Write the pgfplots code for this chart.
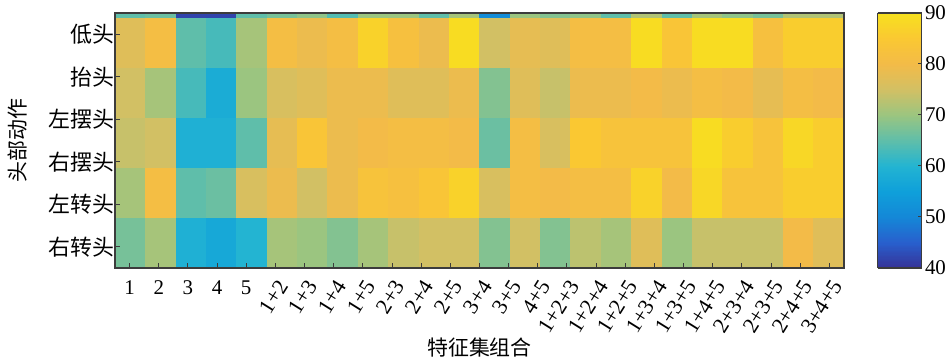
\documentclass[border=0pt]{standalone}
\usepackage{pgfplots}
\pgfplotsset{compat=1.18}
\usepackage{fontspec}
\setmainfont{Liberation Serif}
\newfontfamily\cjk{Noto Sans CJK SC}

% parula-like colour scale, 40 ... 90 in steps of 5
\pgfplotsset{
  colormap={parulaprint}{
    rgb255=(55,50,150)
    rgb255=(40,95,205)
    rgb255=(20,135,215)
    rgb255=(15,160,218)
    rgb255=(35,180,210)
    rgb255=(95,190,170)
    rgb255=(155,197,128)
    rgb255=(210,192,100)
    rgb255=(243,187,72)
    rgb255=(250,200,50)
    rgb255=(247,225,30)
  },
  /pgf/number format/assume math mode=true,
}
\definecolor{frame}{RGB}{60,60,60}

\begin{document}
\begin{tikzpicture}
\begin{axis}[
  scale only axis,
  width=729bp, height=255bp,
  xmin=-0.5, xmax=23.5,
  ymin=0.4, ymax=5.5,
  y dir=reverse,
  enlargelimits=false,
  axis on top,
  colormap name=parulaprint,
  point meta min=40, point meta max=90,
  axis line style={frame, line width=1.1bp},
  tick style={frame, line width=1bp},
  major tick length=5bp,
  tick align=inside,
  tick pos=left,
  xtick={-0.02,0.94,1.90,2.86,3.82},
  xticklabels={1,2,3,4,5},
  extra x ticks={4.78,5.74,6.70,7.66,8.62,9.58,10.54,11.50,12.46,13.42,14.38,15.34,16.30,17.26,18.22,19.18,20.14,21.10,22.06,23.02},
  extra x tick labels={1+2,1+3,1+4,1+5,2+3,2+4,2+5,3+4,3+5,4+5,1+2+3,1+2+4,1+2+5,1+3+4,1+3+5,1+4+5,2+3+4,2+3+5,2+4+5,3+4+5},
  extra x tick style={grid=none, tick pos=left,
    xticklabel style={rotate=58, anchor=east, xshift=3bp, yshift=-9bp,
      font=\fontsize{22}{26}\selectfont}},
  xticklabel style={font=\fontsize{21}{24}\selectfont, yshift=-9bp},
  ytick={0.825,1.675,2.525,3.375,4.225,5.075},
  yticklabels={低头,抬头,左摆头,右摆头,左转头,右转头},
  yticklabel style={font=\cjk\fontsize{22}{26}\selectfont, xshift=3bp},
  xlabel={特征集组合},
  xlabel style={font=\cjk\fontsize{21}{24}\selectfont, at={(axis description cs:0.5,-0.31)}, anchor=center},
  ylabel={头部动作},
  ylabel style={font=\cjk\fontsize{21}{24}\selectfont, at={(axis description cs:-0.1344,0.5)}, anchor=center},
  colorbar sampled,
  colorbar style={
    at={(parent axis.north east)}, anchor=north west, xshift=25bp,
    width=44bp,
    samples=201,
    xmin=0, xmax=1,
    ytick={40,50,...,90},
    ytick pos=right,
    yticklabel pos=right,
    tick align=inside,
    major tick length=4bp,
    axis line style={frame, line width=1.1bp},
    tick style={frame, line width=1bp},
    yticklabel style={font=\fontsize{21}{24}\selectfont},
  },
]
% recognition rate per cell: column index, row index (0 = top strip), value
\addplot[matrix plot*, mesh/cols=24, point meta=explicit]
  table[row sep=\\, meta=c]{
  x y c\\
  0 0 65\\ 1 0 66\\ 2 0 42\\ 3 0 42\\ 4 0 65\\ 5 0 67\\ 6 0 69\\ 7 0 64\\ 8 0 70\\ 9 0 70\\ 10 0 65\\ 11 0 71\\ 12 0 51\\ 13 0 70\\ 14 0 68\\ 15 0 69\\ 16 0 65\\ 17 0 72\\ 18 0 65\\ 19 0 71\\ 20 0 69\\ 21 0 67\\ 22 0 72\\ 23 0 72\\
  0 1 77\\ 1 1 81\\ 2 1 65\\ 3 1 63\\ 4 1 71\\ 5 1 81\\ 6 1 79\\ 7 1 81\\ 8 1 87\\ 9 1 82\\ 10 1 79\\ 11 1 89\\ 12 1 75\\ 13 1 78\\ 14 1 77\\ 15 1 81\\ 16 1 81\\ 17 1 89\\ 18 1 84\\ 19 1 89\\ 20 1 89\\ 21 1 82\\ 22 1 86\\ 23 1 86\\
  0 2 75\\ 1 2 71\\ 2 2 63\\ 3 2 58\\ 4 2 70\\ 5 2 76\\ 6 2 77\\ 7 2 79\\ 8 2 79\\ 9 2 77\\ 10 2 77\\ 11 2 79\\ 12 2 68\\ 13 2 77\\ 14 2 74\\ 15 2 79\\ 16 2 79\\ 17 2 80\\ 18 2 79\\ 19 2 81\\ 20 2 80\\ 21 2 78\\ 22 2 81\\ 23 2 80\\
  0 3 74\\ 1 3 75\\ 2 3 59\\ 3 3 59\\ 4 3 65\\ 5 3 78\\ 6 3 84\\ 7 3 79\\ 8 3 80\\ 9 3 81\\ 10 3 81\\ 11 3 80\\ 12 3 66\\ 13 3 81\\ 14 3 76\\ 15 3 85\\ 16 3 83\\ 17 3 83\\ 18 3 83\\ 19 3 89\\ 20 3 86\\ 21 3 83\\ 22 3 88\\ 23 3 86\\
  0 4 71\\ 1 4 81\\ 2 4 65\\ 3 4 66\\ 4 4 76\\ 5 4 79\\ 6 4 75\\ 7 4 79\\ 8 4 83\\ 9 4 82\\ 10 4 84\\ 11 4 87\\ 12 4 76\\ 13 4 81\\ 14 4 80\\ 15 4 81\\ 16 4 81\\ 17 4 87\\ 18 4 80\\ 19 4 88\\ 20 4 83\\ 21 4 83\\ 22 4 86\\ 23 4 86\\
  0 5 67\\ 1 5 71\\ 2 5 59\\ 3 5 57\\ 4 5 60\\ 5 5 71\\ 6 5 70\\ 7 5 68\\ 8 5 71\\ 9 5 74\\ 10 5 75\\ 11 5 75\\ 12 5 68\\ 13 5 75\\ 14 5 68\\ 15 5 73\\ 16 5 71\\ 17 5 77\\ 18 5 70\\ 19 5 74\\ 20 5 74\\ 21 5 74\\ 22 5 80\\ 23 5 77\\
};
\coordinate (bl) at (axis description cs:0,0);
\coordinate (tr) at (axis description cs:1,1);
\end{axis}
\pgfresetboundingbox
\path[use as bounding box] ([xshift=-115bp,yshift=-93bp]bl) rectangle ([xshift=102bp,yshift=13bp]tr);
\end{tikzpicture}
\end{document}
